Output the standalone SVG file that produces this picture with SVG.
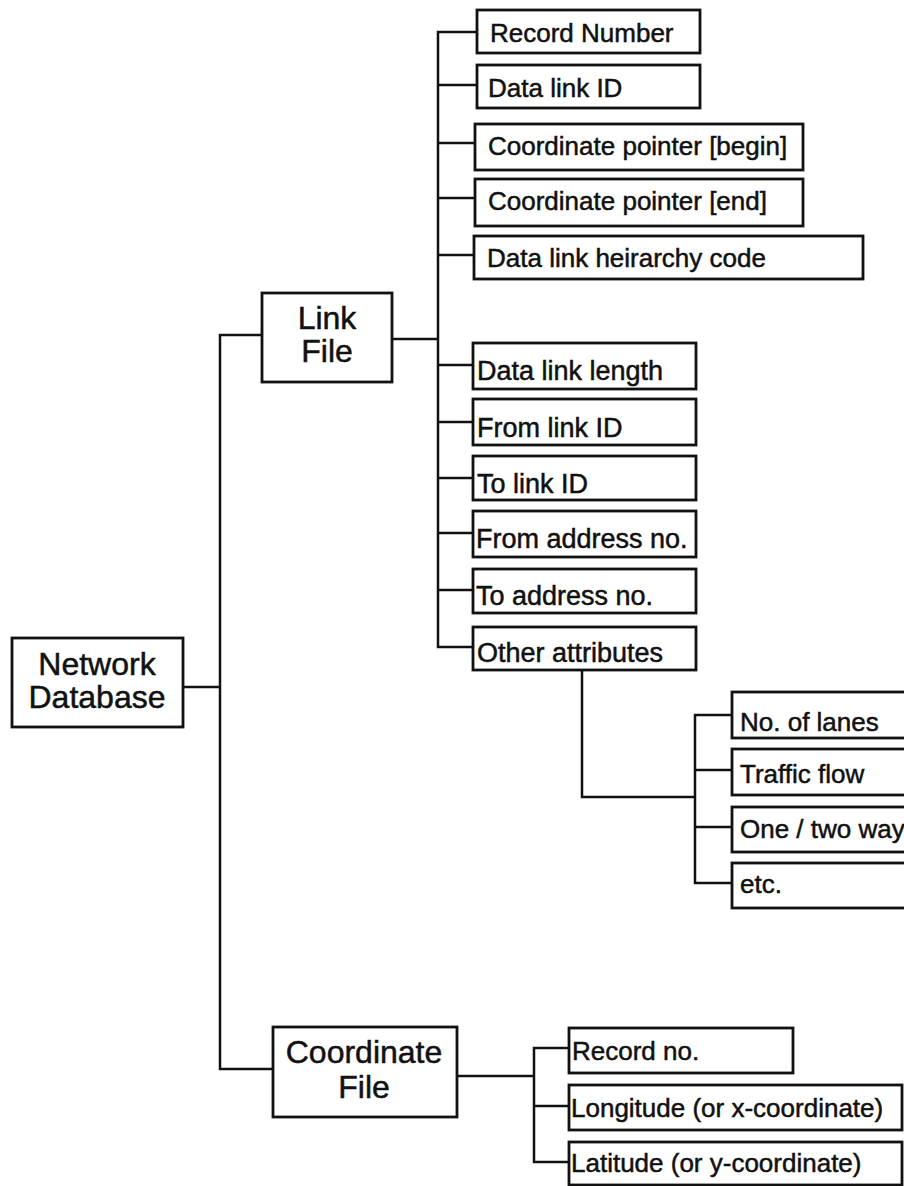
<svg xmlns="http://www.w3.org/2000/svg" width="904" height="1186" viewBox="0 0 904 1186">
<style>
.box{fill:#fff;stroke:#111;stroke-width:2.8}
.ln{fill:none;stroke:#111;stroke-width:2.5;stroke-linecap:square}
.big{font-family:"Liberation Sans",Arial,sans-serif;font-size:32px;fill:#111;stroke:#111;stroke-width:0.5;text-anchor:middle}
.t{font-family:"Liberation Sans",Arial,sans-serif;font-size:26px;fill:#111;stroke:#111;stroke-width:0.5}
.t2{font-family:"Liberation Sans",Arial,sans-serif;font-size:27px;fill:#111;stroke:#111;stroke-width:0.5}
</style>
<rect width="904" height="1186" fill="#fff"/>
<g id="connectors">
<path class="ln" d="M183 687 H220 M220 335 V1069 M220 335 H262 M220 1069 H273"/>
<path class="ln" d="M392 339 H438 M438 32 V647 M438 32 H477 M438 85 H477 M438 143 H475 M438 198 H475 M438 255 H474 M438 365 H473 M438 422 H473 M438 478 H473 M438 533 H473 M438 590 H473 M438 647 H473"/>
<path class="ln" d="M582 670 V797 H695 M695 715 V883 M695 715 H732 M695 770 H732 M695 827 H732 M695 883 H732"/>
<path class="ln" d="M457 1076 H534 M534 1048 V1162 M534 1048 H569 M534 1106 H569 M534 1162 H569"/>
</g>
<g id="network-database"><rect class="box" x="12" y="638" width="171" height="89"/><text class="big" x="97" y="675" font-size="33">Network</text><text class="big" x="97" y="708" font-size="33">Database</text></g>
<g id="link-file"><rect class="box" x="262" y="293" width="130" height="89"/><text class="big" x="327" y="329">Link</text><text class="big" x="327" y="362">File</text></g>
<g id="coordinate-file"><rect class="box" x="273" y="1027" width="184" height="90"/><text class="big" x="364" y="1063">Coordinate</text><text class="big" x="364" y="1098">File</text></g>
<g id="record-number"><rect class="box" x="477" y="10" width="223" height="43"/><text class="t" x="490" y="42">Record Number</text></g>
<g id="data-link-id"><rect class="box" x="477" y="65" width="223" height="43"/><text class="t" x="488" y="97">Data link ID</text></g>
<g id="coord-pointer-begin"><rect class="box" x="475" y="124" width="328" height="46"/><text class="t" x="488" y="155">Coordinate pointer [begin]</text></g>
<g id="coord-pointer-end"><rect class="box" x="475" y="179" width="328" height="47"/><text class="t" x="488" y="210">Coordinate pointer [end]</text></g>
<g id="hierarchy-code"><rect class="box" x="474" y="236" width="389" height="43"/><text class="t" x="487" y="267">Data link heirarchy code</text></g>
<g id="data-link-length"><rect class="box" x="473" y="343" width="223" height="46"/><text class="t2" x="477" y="380">Data link length</text></g>
<g id="from-link-id"><rect class="box" x="473" y="399" width="223" height="46"/><text class="t2" x="477" y="437">From link ID</text></g>
<g id="to-link-id"><rect class="box" x="473" y="456" width="223" height="44"/><text class="t2" x="477" y="493">To link ID</text></g>
<g id="from-address"><rect class="box" x="473" y="511" width="223" height="46"/><text class="t2" x="476" y="548">From address no.</text></g>
<g id="to-address"><rect class="box" x="473" y="569" width="223" height="44"/><text class="t2" x="476" y="605">To address no.</text></g>
<g id="other-attributes"><rect class="box" x="473" y="627" width="223" height="43"/><text class="t2" x="477" y="662">Other attributes</text></g>
<g id="no-of-lanes"><rect class="box" x="732" y="692" width="190" height="46"/><text class="t" x="740" y="731">No. of lanes</text></g>
<g id="traffic-flow"><rect class="box" x="732" y="749" width="190" height="46"/><text class="t" x="740" y="783">Traffic flow</text></g>
<g id="one-two-way"><rect class="box" x="732" y="807" width="190" height="45"/><text class="t" x="740" y="838">One / two way</text></g>
<g id="etc"><rect class="box" x="732" y="863" width="190" height="45"/><text class="t" x="740" y="893">etc.</text></g>
<g id="record-no"><rect class="box" x="569" y="1028" width="224" height="45"/><text class="t" x="572" y="1060">Record no.</text></g>
<g id="longitude"><rect class="box" x="569" y="1085" width="333" height="45"/><text class="t" x="571" y="1117">Longitude (or x-coordinate)</text></g>
<g id="latitude"><rect class="box" x="569" y="1142" width="333" height="43"/><text class="t" x="571" y="1172">Latitude (or y-coordinate)</text></g>
</svg>
